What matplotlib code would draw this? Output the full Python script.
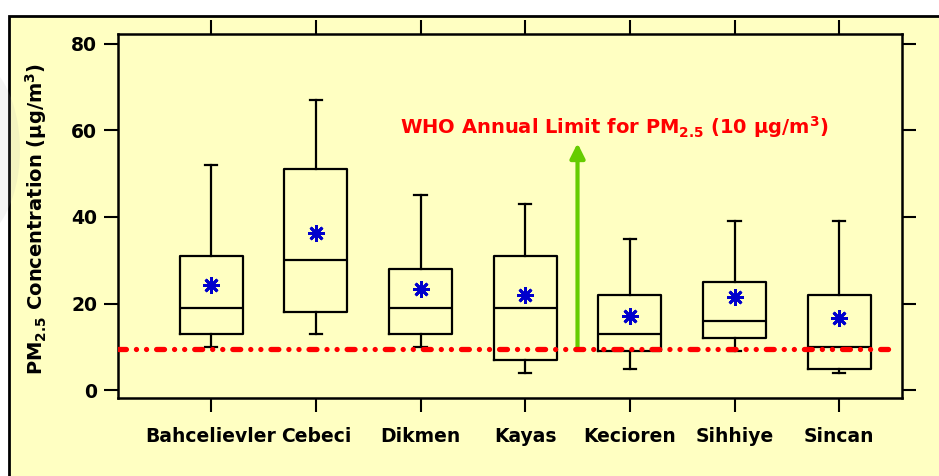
import matplotlib
matplotlib.use('Agg')
import matplotlib.pyplot as plt
from matplotlib.patches import Rectangle, Ellipse

# PM2.5 box statistics per site (ug/m3)
sites = ['Bahcelievler', 'Cebeci', 'Dikmen', 'Kayas', 'Kecioren', 'Sihhiye', 'Sincan']
whislo = [10, 13, 10, 4, 5, 9, 4]
q1 = [13, 18, 13, 7, 9, 12, 5]
med = [19, 30, 19, 19, 13, 16, 10]
q3 = [31, 51, 28, 31, 22, 25, 22]
whishi = [52, 67, 45, 43, 35, 39, 39]
means = [24.3, 36.2, 23.3, 22.0, 17.2, 21.4, 16.7]

who_line_y = 9.6       # drawn position of the WHO limit line
arrow_x = 4.5
arrow_top = 57
yticks = [0, 20, 40, 60, 80]

plt.rcParams['font.family'] = 'DejaVu Sans'
plt.rcParams['font.weight'] = 'bold'
plt.rcParams['mathtext.default'] = 'regular'

W, H = 939, 476
fig = plt.figure(figsize=(W / 100, H / 100), dpi=100)
fig.patch.set_facecolor('white')

# yellow panel behind the axes, faint grey slide decoration on its left edge
fig.patches.append(Rectangle((9 / W, -0.1), 1.2, 1 - 16 / H + 0.1, transform=fig.transFigure,
                             fc='#FFFFC2', ec='black', lw=2, zorder=-2))
fig.patches.append(Ellipse((-35 / W, 1 - 150 / H), 110 / W, 190 / H, transform=fig.transFigure,
                           fc='#aaaaaa', ec='none', alpha=0.12, zorder=-1))

ax = fig.add_axes([118 / W, 1 - 398 / H, (902 - 118) / W, (398 - 34) / H])
ax.patch.set_visible(False)

stats = []
for i, s in enumerate(sites):
    stats.append(dict(label=s, whislo=whislo[i], q1=q1[i], med=med[i], q3=q3[i],
                      whishi=whishi[i], mean=means[i]))
pos = list(range(1, len(sites) + 1))

ax.bxp(stats, positions=pos, widths=0.6, capwidths=0.12, showmeans=True, showfliers=False,
       boxprops=dict(color='black', lw=1.6),
       whiskerprops=dict(color='black', lw=1.6),
       capprops=dict(color='black', lw=1.6),
       medianprops=dict(color='black', lw=1.6),
       meanprops=dict(marker=(8, 2, 0), markeredgecolor='#0000CC', markerfacecolor='#0000CC',
                      markersize=12, markeredgewidth=2.0))

# WHO limit line
ax.axhline(who_line_y, xmin=0, xmax=0.99, color='#FF0000', lw=3.8,
           dashes=(1.5, 1.9, 0.01, 1.9, 0.01, 1.9), dash_capstyle='round', zorder=5)

ax.annotate('', xy=(arrow_x, arrow_top), xytext=(arrow_x, who_line_y),
            arrowprops=dict(arrowstyle='-|>', color='#66CC00', lw=3, mutation_scale=22,
                            shrinkA=0, shrinkB=0))
ax.text(4.85, 59.2, 'WHO Annual Limit for PM$_{2.5}$ (10 µg/m$^3$)', color='#FF0000',
        fontsize=14, fontweight='bold', ha='center', va='baseline')

ax.set_xlim(0.11, 7.6)
ax.set_ylim(-1.8, 82.2)
ax.set_yticks(yticks)
ax.set_xticks(pos)
ax.set_xticklabels(sites)
ax.tick_params(axis='both', direction='out', length=10, width=1.5, top=True, right=True,
               labelsize=13.5)
ax.tick_params(axis='x', pad=11)
ax.tick_params(axis='y', pad=5)
for sp in ax.spines.values():
    sp.set_linewidth(1.8)

fig.text(36 / W, 0.54, 'PM$_{2.5}$ Concentration (µg/m$^3$)', rotation=90,
         ha='center', va='center', fontsize=14, fontweight='bold')

fig.savefig('out.png', dpi=100)
